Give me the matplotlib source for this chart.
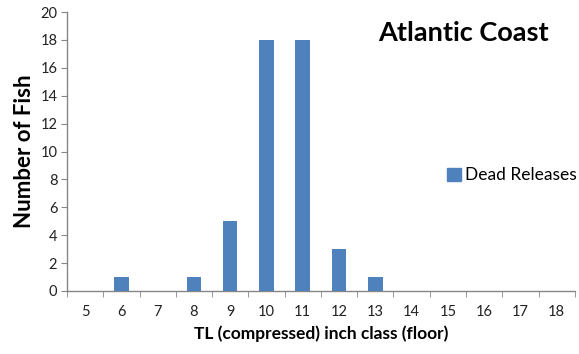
import matplotlib
matplotlib.use("Agg")
import matplotlib.pyplot as plt
from matplotlib.patches import Patch

plt.rcParams['font.family'] = ['Lato', 'DejaVu Sans']

inch_class = [5, 6, 7, 8, 9, 10, 11, 12, 13, 14, 15, 16, 17, 18]
dead_releases = [0, 1, 0, 1, 5, 18, 18, 3, 1, 0, 0, 0, 0, 0]

bar_color = "#4f81bd"
axis_color = "#868686"

fig = plt.figure(figsize=(5.79, 3.54), dpi=100)
ax = fig.add_axes([0.1157, 0.178, 0.877, 0.788])

x = list(range(len(inch_class)))
ax.bar(x, dead_releases, width=0.4, color=bar_color, zorder=3)

ax.set_xlim(-0.5, len(inch_class) - 0.5)
ax.set_ylim(0, 20)
ax.set_yticks(range(0, 21, 2))
ax.tick_params(axis='y', direction='out', length=4, color=axis_color,
               labelsize=10.5, labelcolor="#222222", pad=3)

# category labels centered, ticks at category boundaries
ax.set_xticks(x)
ax.set_xticklabels([str(c) for c in inch_class])
ax.tick_params(axis='x', which='major', length=0, labelsize=10.5,
               labelcolor="#222222", pad=10)
ax.set_xticks([i - 0.5 for i in range(len(inch_class) + 1)], minor=True)
ax.tick_params(axis='x', which='minor', direction='out', length=4,
               color=axis_color)

for s in ['top', 'right']:
    ax.spines[s].set_visible(False)
for s in ['left', 'bottom']:
    ax.spines[s].set_color(axis_color)
    ax.spines[s].set_linewidth(1)

ax.set_xlabel("TL (compressed) inch class (floor)", fontsize=12.5,
              fontweight='bold', labelpad=5)
ax.set_ylabel("Number of Fish", fontsize=16, fontweight='bold', labelpad=4)

ax.text(0.78, 0.925, "Atlantic Coast", transform=ax.transAxes,
        fontsize=19.5, fontweight='bold', ha='center', va='center')

ax.legend(handles=[Patch(color=bar_color, label="Dead Releases")],
          loc='center left', bbox_to_anchor=(0.724, 0.415), frameon=False,
          fontsize=12.5, handlelength=0.8, handleheight=0.8,
          handletextpad=0.25, borderpad=0.2)

fig.savefig("out.png", dpi=100)
